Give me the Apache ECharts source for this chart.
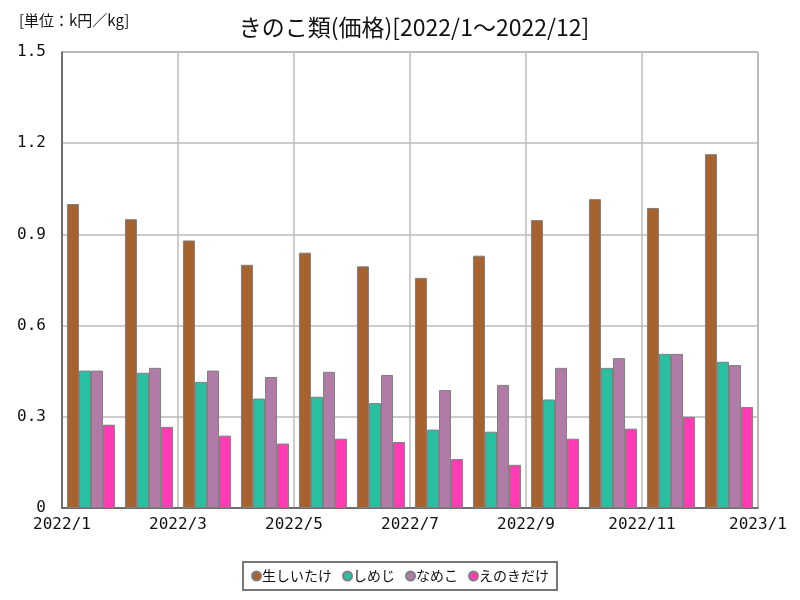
<!DOCTYPE html>
<html><head><meta charset="utf-8">
<script src="https://cdn.jsdelivr.net/npm/echarts@6/dist/echarts.min.js"></script>
<style>html,body{margin:0;padding:0;background:#fff}#c{width:800px;height:600px}</style>
</head><body><div id="c"></div>
<script>
const categories = ['2022/1','2022/2','2022/3','2022/4','2022/5','2022/6','2022/7','2022/8','2022/9','2022/10','2022/11','2022/12'];
const xTickLabels = ['2022/1','2022/3','2022/5','2022/7','2022/9','2022/11','2023/1'];
const yTickLabels = ['0','0.3','0.6','0.9','1.2','1.5'];
const seriesNames = ['生しいたけ','しめじ','なめこ','えのきだけ'];
const shiitake = [1.00,0.95,0.88,0.80,0.84,0.795,0.757,0.83,0.947,1.016,0.987,1.164];
const shimeji  = [0.452,0.445,0.415,0.36,0.366,0.345,0.258,0.251,0.357,0.461,0.507,0.481];
const nameko   = [0.452,0.461,0.452,0.431,0.448,0.4375,0.388,0.405,0.461,0.493,0.507,0.47];
const enoki    = [0.274,0.267,0.238,0.212,0.228,0.217,0.161,0.142,0.228,0.261,0.30,0.332];
const colors = ['#A6632F','#2ABFA0','#B07BA6','#FF3CB4'];
const values = [shiitake, shimeji, nameko, enoki];
const font = '"Noto Sans CJK JP", "Noto Sans", sans-serif';
const mono = '"DejaVu Sans Mono", "Liberation Mono", monospace';

const chart = echarts.init(document.getElementById('c'));
chart.setOption({
  animation: false,
  textStyle: {fontFamily: font},
  title: [
    {text: 'きのこ類(価格)[2022/1～2022/12]', left: 409, textAlign: 'center', top: 11,
     textStyle: {fontSize: 23, fontWeight: 'normal', color: '#111', fontFamily: font}},
    {text: '[単位：k円／kg]', left: 14, top: 8,
     textStyle: {fontSize: 15, fontWeight: 'normal', color: '#111', fontFamily: font}}
  ],
  legend: {
    bottom: 10, left: 'center',
    data: seriesNames,
    icon: 'circle', itemWidth: 9, itemHeight: 9, itemGap: 10,
    borderColor: '#777', borderWidth: 2, padding: [7, 8],
    textStyle: {fontSize: 14, color: '#111', padding: [0,0,0,-4]}
  },
  grid: {left: 62, right: 42, top: 52, bottom: 92, show: true, borderColor: '#777', borderWidth: 1},
  xAxis: [
    {type: 'category', data: categories, boundaryGap: true,
     axisLabel: {show: false}, axisTick: {show: false}, splitLine: {show: false},
     axisLine: {show: true, lineStyle: {color: '#555', width: 1.5}}},
    {type: 'value', min: 0, max: 12, interval: 2, position: 'bottom',
     axisLine: {show: false}, axisTick: {show: false},
     splitLine: {show: true, lineStyle: {color: '#bbb', width: 1.5}},
     axisLabel: {fontSize: 16, color: '#111', margin: 9, fontFamily: mono,
       formatter: v => xTickLabels[Math.round(v / 2)]}}
  ],
  yAxis: {
    type: 'value', min: 0, max: 1.5, interval: 0.3,
    axisLine: {show: true, lineStyle: {color: '#555', width: 1.5}},
    axisTick: {show: false},
    splitLine: {lineStyle: {color: '#bbb', width: 1.5}},
    axisLabel: {fontSize: 16, color: '#111', margin: 16, fontFamily: mono,
      formatter: v => yTickLabels[Math.round(v / 0.3)]}
  },
  series: values.map((d, i) => ({
    name: seriesNames[i], type: 'bar', xAxisIndex: 0, data: d,
    barGap: '0%', barCategoryGap: '17%',
    itemStyle: {color: colors[i], borderColor: '#808080', borderWidth: 1}
  }))
});
</script></body></html>
